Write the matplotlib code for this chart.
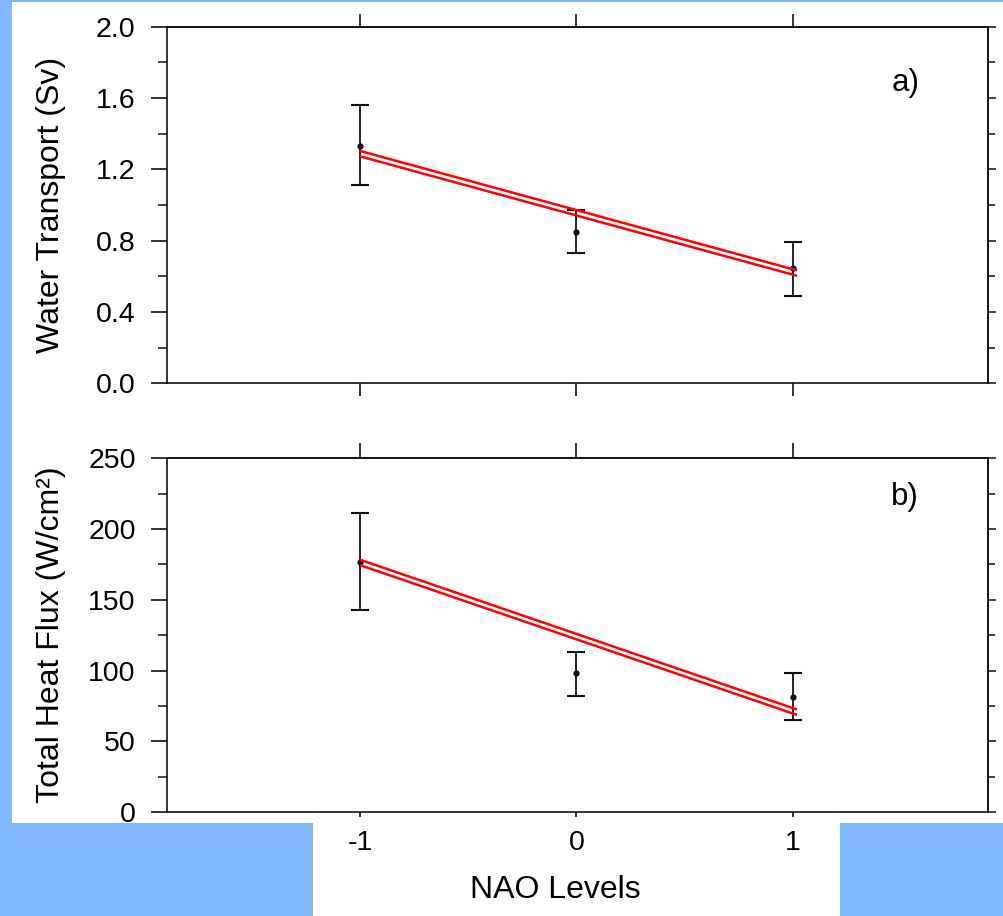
import matplotlib
matplotlib.use("Agg")
import matplotlib.pyplot as plt
from matplotlib.patches import Rectangle
from matplotlib.ticker import MultipleLocator, FixedLocator, FormatStrFormatter
import matplotlib.transforms as mtransforms

plt.rcParams['font.family'] = ['Liberation Sans', 'DejaVu Sans']

# ---- data ----
nao = [-1, 0, 1]
nao_labels = ["-1", "0", "1"]

transport_mean = [1.33, 0.85, 0.645]
transport_low = [1.11, 0.73, 0.49]
transport_high = [1.56, 0.97, 0.79]
transport_fit_x = [-1, 1.02]
transport_fit_y = [1.288, 0.618]

heat_mean = [177, 98, 81]
heat_low = [143, 82, 65]
heat_high = [211, 113, 98]
heat_fit_x = [-1, 1.02]
heat_fit_y = [176.4, 70.5]

W, H = 1004, 916
fig = plt.figure(figsize=(W / 100, H / 100), dpi=100)
BLUE = '#7fb8fd'
fig.patch.set_facecolor(BLUE)

# white scanned sheet
fig.add_artist(Rectangle((12 / W, 1 - 822.5 / H), (W - 12) / W, (822.5 - 2) / H,
                         transform=fig.transFigure, facecolor='white', edgecolor='none', zorder=0))
fig.add_artist(Rectangle((313.5 / W, 0), (840 - 313.5) / W, 1 - 822 / H + 0.001,
                         transform=fig.transFigure, facecolor='white', edgecolor='none', zorder=0))

left = 167 / W
right = 988.3 / W
ax1 = fig.add_axes([left, 1 - 383.3 / H, right - left, (383.3 - 26.7) / H])
ax2 = fig.add_axes([left, 1 - 812 / H, right - left, (812 - 458.3) / H])

TICK_FS = 20.5
LABEL_FS = 23
INK = '#111111'


def style(ax, ylim, major, minor, ylabel, top_len, bot_len, show_xlabels):
    ax.set_facecolor('none')
    ax.set_xlim(-1.892, 1.904)
    ax.set_ylim(*ylim)
    for s in ax.spines.values():
        s.set_linewidth(1.2)
        s.set_color(INK)
    ax.yaxis.set_major_locator(MultipleLocator(major))
    ax.yaxis.set_minor_locator(MultipleLocator(minor))
    ax.tick_params(axis='y', which='major', direction='out', length=11.5, width=1.2,
                   labelsize=TICK_FS, pad=11, color=INK, right=False)
    ax.tick_params(axis='y', which='minor', direction='out', length=6.5, width=1.1,
                   color=INK, right=False)
    ax.set_xticks(nao)
    ax.xaxis.set_minor_locator(FixedLocator([]))
    ax.tick_params(axis='x', which='major', direction='out', length=bot_len, width=1.2,
                   labelsize=TICK_FS, pad=9, color=INK, top=False,
                   labelbottom=show_xlabels)
    if show_xlabels:
        ax.set_xticklabels(nao_labels)
    ax.set_ylabel(ylabel, fontsize=LABEL_FS)
    ax.yaxis.set_label_coords(-0.123, 0.5)
    # top ticks
    sx = ax.secondary_xaxis('top')
    sx.set_xticks(nao)
    sx.tick_params(axis='x', direction='out', length=top_len, width=1.2,
                   labeltop=False, color=INK)
    sx.spines['top'].set_linewidth(1.2)
    sx.spines['top'].set_color(INK)
    # right ticks
    sy = ax.secondary_yaxis('right')
    sy.yaxis.set_major_locator(MultipleLocator(major))
    sy.yaxis.set_minor_locator(MultipleLocator(minor))
    sy.tick_params(axis='y', which='major', direction='out', length=5.8, width=1.1,
                   labelright=False, color=INK)
    sy.tick_params(axis='y', which='minor', direction='out', length=5.0, width=1.1,
                   color=INK)
    sy.spines['right'].set_linewidth(1.2)
    sy.spines['right'].set_color(INK)


def draw(ax, mean, low, high, fx, fy):
    yerr = [[m - l for m, l in zip(mean, low)], [h - m for m, h in zip(mean, high)]]
    ax.errorbar(nao, mean, yerr=yerr, fmt='o', color=INK, ms=3.5,
                elinewidth=1.3, capsize=6.5, capthick=1.5, zorder=2)
    for dy in (1.95, -1.95):
        tr = ax.transData + mtransforms.ScaledTranslation(0, dy / 72, fig.dpi_scale_trans)
        ax.plot(fx, fy, color='#ff0000', lw=1.8, solid_capstyle='butt',
                transform=tr, zorder=3)


style(ax1, (0, 2.0), 0.4, 0.2, 'Water Transport (Sv)', 9.4, 9.4, False)
ax1.yaxis.set_major_formatter(FormatStrFormatter('%.1f'))
draw(ax1, transport_mean, transport_low, transport_high, transport_fit_x, transport_fit_y)
ax1.text(1.52, 1.685, 'a)', fontsize=22.5, ha='center', va='center')

style(ax2, (0, 250), 50, 25, 'Total Heat Flux (W/cm²)', 11, 3.6, True)
draw(ax2, heat_mean, heat_low, heat_high, heat_fit_x, heat_fit_y)
ax2.text(1.52, 222.8, 'b)', fontsize=22.5, ha='center', va='center')
ax2.set_xlabel('NAO Levels', fontsize=LABEL_FS)
ax2.xaxis.set_label_coords(0.4724, -0.177)

fig.savefig('out.png', dpi=100, facecolor=fig.get_facecolor())
